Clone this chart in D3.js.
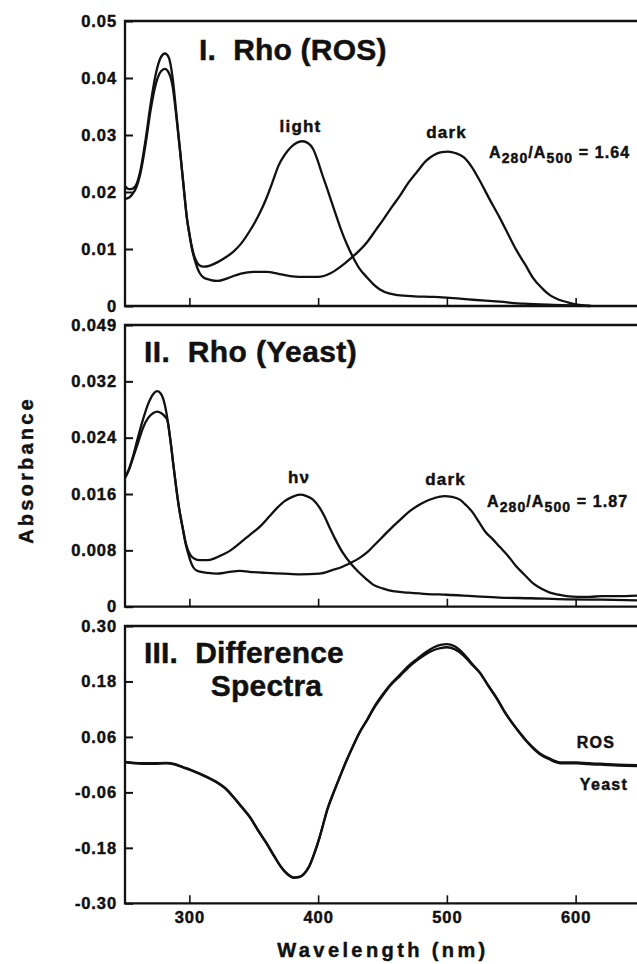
<!DOCTYPE html>
<html>
<head>
<meta charset="utf-8">
<script src="https://cdn.jsdelivr.net/npm/d3@7"></script>
<style>
  body { margin: 0; background: #fff; }
  svg { display: block; font-family: "Liberation Sans", Arial, Helvetica, sans-serif; font-weight: bold; }
  text { stroke: #111; stroke-width: 0.45px; }
  .tick text { font-size: 16.5px; letter-spacing: 0.9px; fill: #111; }
</style>
</head>
<body>
<svg id="chart" width="637" height="964"></svg>
<script>
// wavelength (nm) / absorbance pairs
const rosDark = [[250,0.0210],[253,0.0205],[256,0.0206],[259,0.0214],[262,0.0238],[266,0.0292],[270,0.0356],[274,0.0408],[278,0.0437],[281,0.0443],[284,0.0436],[287,0.0400],[290,0.0335],[293,0.0268],[296,0.0200],[298,0.0156],[300,0.0126],[302,0.0100],[304,0.0082],[306,0.0068],[308,0.0058],[311,0.0050],[316,0.0046],[322,0.0044],[330,0.0049],[340,0.0057],[350,0.0060],[360,0.0060],[370,0.0056],[380,0.0052],[390,0.0051],[400,0.0051],[410,0.0058],[418,0.0070],[425,0.0083],[431,0.0095],[438,0.0112],[445,0.0134],[451,0.0153],[458,0.0176],[464,0.0195],[470,0.0216],[477,0.0236],[484,0.0255],[490,0.0265],[496,0.0270],[501,0.0271],[507,0.0268],[513,0.0261],[519,0.0245],[526,0.0218],[533,0.0188],[541,0.0155],[548,0.0124],[554,0.0098],[561,0.0072],[567,0.0049],[574,0.0031],[580,0.0019],[587,0.0011],[593,0.0007],[600,0.0003],[606,0.0001],[612,0]];
const rosLight = [[250,0.0188],[253,0.0190],[256,0.0197],[259,0.0209],[262,0.0233],[266,0.0284],[270,0.0345],[274,0.0390],[278,0.0412],[281,0.0416],[284,0.0409],[287,0.0385],[290,0.0330],[293,0.0266],[296,0.0198],[298,0.0155],[300,0.0127],[302,0.0103],[304,0.0086],[306,0.0076],[308,0.0071],[311,0.0069],[316,0.0071],[322,0.0077],[328,0.0085],[334,0.0095],[340,0.0109],[347,0.0132],[354,0.0160],[360,0.0190],[365,0.0220],[369,0.0245],[374,0.0265],[379,0.0279],[384,0.0287],[388,0.0289],[392,0.0286],[396,0.0276],[400,0.0253],[403,0.0232],[407,0.0206],[412,0.0172],[417,0.0139],[422,0.0110],[427,0.0086],[432,0.0066],[438,0.0050],[443,0.0038],[448,0.0029],[455,0.0022],[462,0.0019],[475,0.0017],[490,0.0016],[500,0.00146],[520,0.0011],[541,0.00075],[560,0.0004],[583,0.0002],[600,0.0001],[611,0]];

const yeastDark = [[250,0.0183],[253,0.0195],[256,0.0212],[260,0.0240],[264,0.0266],[268,0.0288],[272,0.0302],[275,0.0306],[278,0.0302],[281,0.0286],[283,0.0266],[285,0.0240],[288,0.0195],[290,0.0166],[292,0.0140],[295,0.0110],[297,0.0090],[299,0.0076],[301,0.0064],[303,0.0056],[306,0.0051],[310,0.0049],[314,0.0048],[321,0.0047],[330,0.0049],[339,0.0051],[350,0.0049],[360,0.0048],[373,0.0047],[386,0.0046],[401,0.0047],[411,0.0052],[418,0.0056],[425,0.0062],[432,0.0069],[438,0.0077],[444,0.0088],[451,0.0101],[457,0.0112],[464,0.0124],[470,0.0134],[477,0.0143],[483,0.0149],[490,0.0154],[498,0.0157],[504,0.0156],[510,0.0152],[515,0.0144],[520,0.0134],[525,0.0120],[530,0.0106],[535,0.0097],[541,0.0085],[548,0.0071],[554,0.0057],[561,0.0044],[567,0.0033],[574,0.0025],[580,0.0020],[587,0.0017],[593,0.0015],[602,0.0014],[611,0.0014],[620,0.0015],[632,0.0015],[650,0.0016]];
const yeastLight = [[250,0.0183],[253,0.0194],[256,0.0210],[260,0.0232],[264,0.0254],[268,0.0268],[272,0.0275],[275,0.0277],[278,0.0275],[281,0.0270],[283,0.0264],[285,0.0240],[288,0.0195],[290,0.0166],[292,0.0140],[295,0.0110],[297,0.0092],[299,0.0080],[301,0.0073],[304,0.0068],[308,0.0066],[314,0.0066],[320,0.0069],[326,0.0074],[332,0.0080],[339,0.0090],[347,0.0102],[355,0.0114],[362,0.0128],[368,0.0140],[374,0.0150],[380,0.0156],[386,0.0159],[391,0.0157],[396,0.0152],[401,0.0141],[405,0.0128],[409,0.0112],[413,0.0097],[419,0.0077],[425,0.0062],[431,0.0050],[437,0.0040],[443,0.0031],[450,0.0026],[458,0.0022],[470,0.0020],[485,0.0018],[500,0.0017],[520,0.0015],[541,0.0013],[565,0.0012],[593,0.00105],[620,0.0010],[650,0.0009]];

const diffRos = [[250,0.006],[257,0.004],[264,0.003],[272,0.003],[282,0.004],[289,0.001],[295,-0.005],[301,-0.011],[308,-0.019],[314,-0.027],[321,-0.037],[328,-0.051],[334,-0.069],[340,-0.089],[347,-0.113],[353,-0.140],[360,-0.170],[366,-0.198],[371,-0.220],[376,-0.236],[381,-0.244],[385,-0.243],[389,-0.236],[393,-0.220],[397,-0.192],[401,-0.158],[404,-0.128],[407,-0.098],[412,-0.060],[417,-0.025],[422,0.009],[427,0.040],[432,0.069],[438,0.097],[444,0.127],[451,0.155],[457,0.176],[464,0.196],[470,0.213],[477,0.229],[483,0.242],[490,0.254],[495,0.259],[500,0.261],[506,0.256],[513,0.240],[519,0.220],[526,0.198],[532,0.172],[539,0.143],[545,0.114],[552,0.086],[557,0.068],[562,0.051],[567,0.037],[572,0.025],[580,0.013],[588,0.005],[595,0.005],[601,0.005],[610,0.003],[619,0.002],[633,0.000],[650,-0.001]];
const diffYeast = [[250,0.005],[257,0.003],[264,0.002],[272,0.002],[282,0.003],[289,0.000],[295,-0.006],[301,-0.012],[308,-0.020],[314,-0.028],[321,-0.038],[328,-0.052],[334,-0.070],[340,-0.090],[347,-0.114],[353,-0.141],[360,-0.171],[366,-0.199],[371,-0.221],[376,-0.237],[381,-0.245],[385,-0.244],[389,-0.237],[393,-0.221],[397,-0.193],[401,-0.159],[404,-0.129],[407,-0.099],[412,-0.061],[417,-0.026],[422,0.008],[427,0.039],[432,0.068],[438,0.096],[444,0.125],[451,0.153],[457,0.174],[464,0.193],[470,0.210],[477,0.226],[483,0.238],[490,0.248],[495,0.252],[500,0.254],[506,0.250],[513,0.236],[519,0.218],[526,0.197],[532,0.171],[539,0.142],[545,0.113],[552,0.085],[557,0.067],[562,0.050],[567,0.035],[572,0.023],[580,0.011],[588,0.003],[595,0.003],[601,0.003],[610,0.001],[619,0.000],[633,-0.002],[650,-0.003]];

const xTicks = [300, 400, 500, 600];
const yTicks1 = [0, 0.01, 0.02, 0.03, 0.04, 0.05];
const yLabels1 = ["0", "0.01", "0.02", "0.03", "0.04", "0.05"];
const yTicks2 = [0, 0.008, 0.016, 0.024, 0.032, 0.040];
const yLabels2 = ["0", "0.008", "0.016", "0.024", "0.032", "0.049"];
const yTicks3 = [-0.30, -0.18, -0.06, 0.06, 0.18, 0.30];
const yLabels3 = ["-0.30", "-0.18", "-0.06", "0.06", "0.18", "0.30"];

const svg = d3.select("#chart");
const left = 125, right = 640;
const x = d3.scaleLinear().domain([250, 650]).range([left, right]);

const line = d3.line()
    .x(d => x(d[0]))
    .curve(d3.curveMonotoneX);

function drawPanel(top, bottom, domain, ticks, labels, series, showX) {
    let y = d3.scaleLinear().domain(domain).range([bottom, top]);
    let g = svg.append("g");

    let yAxis = g.append("g")
        .attr("transform", `translate(${left},0)`)
        .call(d3.axisLeft(y).tickValues(ticks)
            .tickFormat((d, i) => labels[i])
            .tickSizeInner(-8).tickSizeOuter(0).tickPadding(8));
    yAxis.select(".domain").remove();
    yAxis.selectAll(".tick line").attr("stroke", "#111").attr("stroke-width", 2);

    let xAxis = g.append("g")
        .attr("transform", `translate(0,${bottom})`)
        .call(d3.axisBottom(x).tickValues(xTicks)
            .tickSizeInner(-8).tickSizeOuter(0).tickPadding(8));
    xAxis.select(".domain").remove();
    xAxis.selectAll(".tick line").attr("stroke", "#111").attr("stroke-width", 1.6);
    if (!showX) xAxis.selectAll(".tick text").remove();

    // frame: left, top, bottom
    g.append("path")
        .attr("d", `M${right},${top}H${left}V${bottom}H${right}`)
        .attr("fill", "none")
        .attr("stroke", "#111")
        .attr("stroke-width", 2.3);

    for (const s of series) {
        g.append("path")
            .datum(s)
            .attr("fill", "none")
            .attr("stroke", "#111")
            .attr("stroke-width", 2.3)
            .attr("stroke-linejoin", "round")
            .attr("d", line.y(d => y(d[1])));
    }
    return g;
}

const p1 = drawPanel(21, 306, [0, 0.05], yTicks1, yLabels1, [rosDark, rosLight], false);
const p2 = drawPanel(325, 606.7, [0, 0.04], yTicks2, yLabels2, [yeastDark, yeastLight], false);
const p3 = drawPanel(626, 903.3, [-0.30, 0.30], yTicks3, yLabels3, [diffRos, diffYeast], true);

function label(txt, px, py, size, anchor) {
    return svg.append("text")
        .attr("x", px).attr("y", py)
        .attr("font-size", size)
        .attr("text-anchor", anchor || "start")
        .attr("fill", "#111")
        .style("white-space", "pre")
        .text(txt);
}

// panel titles
label("I.  Rho (ROS)", 199, 60, 30).attr("letter-spacing", 0.2);
label("II.  Rho (Yeast)", 144, 362, 30).attr("letter-spacing", 0.4);
label("III.  Difference", 144, 663, 30).attr("letter-spacing", 0.2);
label("Spectra", 266.5, 696, 30, "middle").attr("letter-spacing", 0.2);

// curve annotations
label("light", 300.5, 132, 17, "middle").attr("letter-spacing", 1.2);
label("dark", 446.5, 138, 17, "middle").attr("letter-spacing", 1.2);
label("h\u03bd", 299, 483, 17, "middle").attr("letter-spacing", 1);
label("dark", 445.5, 485, 17, "middle").attr("letter-spacing", 1.2);
label("ROS", 596, 748, 16, "middle").attr("letter-spacing", 1.3);
label("Yeast", 604, 790, 16, "middle").attr("letter-spacing", 1.3);

function ratio(px, py, value) {
    let t = svg.append("text").attr("x", px).attr("y", py)
        .attr("font-size", 16).attr("fill", "#111").attr("letter-spacing", 1.1);
    t.append("tspan").text("A");
    t.append("tspan").attr("font-size", 14).attr("dy", 5).text("280");
    t.append("tspan").attr("dy", -5).text("/A");
    t.append("tspan").attr("font-size", 14).attr("dy", 5).text("500");
    t.append("tspan").attr("dy", -5).style("white-space", "pre").text(" = " + value);
}
ratio(489, 158, "1.64");
ratio(487, 507, "1.87");

// axis titles
svg.append("text")
    .attr("transform", "translate(33,470) rotate(-90)")
    .attr("text-anchor", "middle")
    .attr("font-size", 20)
    .attr("letter-spacing", 3.2)
    .attr("fill", "#111")
    .text("Absorbance");

svg.append("text")
    .attr("x", 383).attr("y", 957)
    .attr("text-anchor", "middle")
    .attr("font-size", 20)
    .attr("letter-spacing", 3.4)
    .attr("fill", "#111")
    .text("Wavelength (nm)");
</script>
</body>
</html>
